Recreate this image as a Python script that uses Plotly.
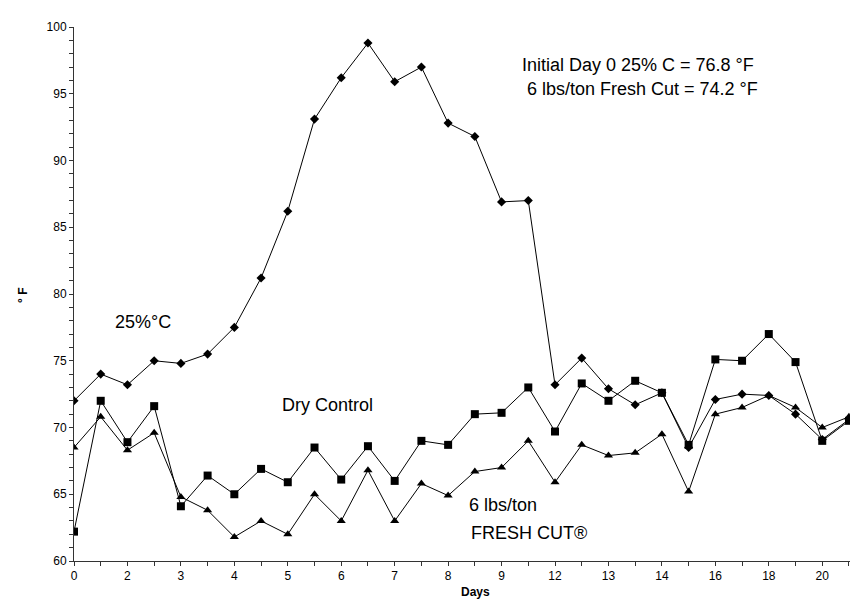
import plotly.graph_objects as go

# category labels (shown every other category)
day_labels = ["0", "", "2", "", "3", "", "4", "", "5", "", "6", "", "7", "", "8", "",
              "9", "", "12", "", "13", "", "14", "", "16", "", "18", "", "20", ""]
pos = list(range(len(day_labels)))

temp_25C = [72.0, 74.0, 73.2, 75.0, 74.8, 75.5, 77.5, 81.2, 86.2, 93.1, 96.2, 98.8,
            95.9, 97.0, 92.8, 91.8, 86.9, 87.0, 73.2, 75.2, 72.9, 71.7, 72.6, 68.5,
            72.1, 72.5, 72.4, 71.0, 69.1, 70.6]
dry_control = [62.2, 72.0, 68.9, 71.6, 64.1, 66.4, 65.0, 66.9, 65.9, 68.5, 66.1, 68.6,
               66.0, 69.0, 68.7, 71.0, 71.1, 73.0, 69.7, 73.3, 72.0, 73.5, 72.6, 68.7,
               75.1, 75.0, 77.0, 74.9, 69.0, 70.5]
fresh_cut = [68.5, 70.8, 68.3, 69.6, 64.8, 63.8, 61.8, 63.0, 62.0, 65.0, 63.0, 66.8,
             63.0, 65.8, 64.9, 66.7, 67.0, 69.0, 65.9, 68.7, 67.9, 68.1, 69.5, 65.2,
             71.0, 71.5, 72.4, 71.5, 70.0, 70.8]

y_ticks = list(range(60, 101))
y_ticktext = [str(v) if v % 5 == 0 else "" for v in y_ticks]

FONT = "Liberation Sans, Arial, sans-serif"

fig = go.Figure()
line = dict(color="black", width=1)
fig.add_trace(go.Scatter(x=pos, y=temp_25C, mode="lines+markers", line=line,
                         marker=dict(symbol="diamond", size=7, color="black"), name="25%°C"))
fig.add_trace(go.Scatter(x=pos, y=dry_control, mode="lines+markers", line=line,
                         marker=dict(symbol="square", size=8, color="black"), name="Dry Control"))
fig.add_trace(go.Scatter(x=pos, y=fresh_cut, mode="lines+markers", line=line,
                         marker=dict(symbol="triangle-up", size=8, color="black"), name="6 lbs/ton FRESH CUT®"))

W, H = 858, 601
L, R, T, B = 66, 1, 19, 48
pw, ph = W - L - R, H - T - B


def px(x):
    return (x - L) / pw


def py(y):
    return (H - B - y) / ph


fig.update_layout(
    width=W, height=H,
    margin=dict(l=L, r=R, t=T, b=B),
    paper_bgcolor="white", plot_bgcolor="white",
    showlegend=False,
    font=dict(family=FONT, size=12, color="black"),
    xaxis=dict(range=[0, 29.6], tickvals=pos, ticktext=day_labels, ticks="outside",
               ticklen=4, tickcolor="#333", showline=True, linecolor="#333", linewidth=1,
               showgrid=False, zeroline=False, tickfont=dict(size=12)),
    yaxis=dict(range=[60, 100], tickvals=y_ticks, ticktext=y_ticktext, ticks="outside",
               ticklen=4, tickcolor="#333", showline=True, linecolor="#333", linewidth=1,
               showgrid=False, zeroline=False, tickfont=dict(size=12)),
)

ann_font = dict(family=FONT, size=18, color="black")
annotations = [
    dict(text="Initial Day 0 25% C = 76.8 °F", x=px(512), y=py(57), xanchor="left"),
    dict(text="6 lbs/ton Fresh Cut = 74.2 °F", x=px(517), y=py(81), xanchor="left"),
    dict(text="25%°C", x=px(105), y=py(314), xanchor="left"),
    dict(text="Dry Control", x=px(272), y=py(397), xanchor="left"),
    dict(text="6 lbs/ton", x=px(459), y=py(497), xanchor="left"),
    dict(text="FRESH CUT®", x=px(461), y=py(525), xanchor="left"),
]
for a in annotations:
    fig.add_annotation(xref="paper", yref="paper", yanchor="middle", showarrow=False,
                       font=ann_font, **a)

fig.add_annotation(text="<b>Days</b>", xref="paper", yref="paper", x=px(467), y=py(584),
                   xanchor="center", yanchor="middle", showarrow=False,
                   font=dict(family=FONT, size=12, color="black"))
fig.add_annotation(text="<b>° F</b>", xref="paper", yref="paper", x=px(15), y=py(288),
                   xanchor="center", yanchor="middle", textangle=-90, showarrow=False,
                   font=dict(family=FONT, size=12, color="black"))

fig.write_html("out.html")
